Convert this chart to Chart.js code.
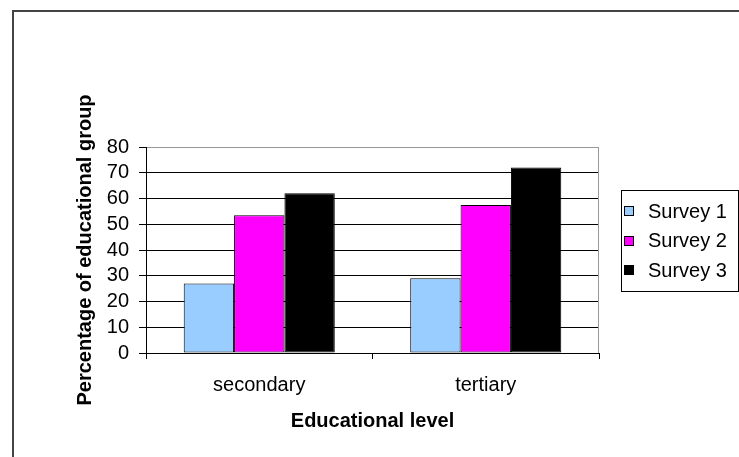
<!DOCTYPE html>
<html>
<head>
<meta charset="utf-8">
<script src="https://cdn.jsdelivr.net/npm/chart.js@4/dist/chart.umd.min.js"></script>
<style>
  html, body { margin: 0; padding: 0; background: #fff; }
  #wrap { width: 739px; height: 457px; }
</style>
</head>
<body>
<div id="wrap"><canvas id="chart" width="739" height="457"></canvas></div>
<script>
// Share of each educational group, by survey
const categories = ['secondary', 'tertiary'];
const seriesNames = ['Survey 1', 'Survey 2', 'Survey 3'];
const survey1 = [27, 29];
const survey2 = [53.5, 57.5];
const survey3 = [62, 72];
const yMin = 0;
const yMax = 80;
const yStep = 10;

const colors = ['#99CCFF', '#FF00FF', '#000000'];
const FONT = '"Liberation Sans", Arial, sans-serif';

// Outer frame, plot-area outline and the boxed legend
const decorations = {
  id: 'decorations',
  beforeDraw(chart) {
    const ctx = chart.ctx;
    ctx.save();
    ctx.strokeStyle = '#444';
    ctx.lineWidth = 2;
    ctx.beginPath();
    ctx.moveTo(13, 470);
    ctx.lineTo(13, 11);
    ctx.lineTo(760, 11);
    ctx.stroke();
    ctx.restore();
  },
  beforeDatasetsDraw(chart) {
    const { ctx, chartArea: a } = chart;
    ctx.save();
    ctx.strokeStyle = '#999';
    ctx.lineWidth = 1;
    ctx.beginPath();
    ctx.moveTo(Math.round(a.right) - 0.5, a.bottom);
    ctx.lineTo(Math.round(a.right) - 0.5, a.top);
    ctx.stroke();
    ctx.restore();
  },
  afterDraw(chart) {
    const ctx = chart.ctx;
    const box = { x: 621.5, y: 190.5, w: 117, h: 101 };
    ctx.save();
    ctx.strokeStyle = '#000';
    ctx.lineWidth = 1;
    ctx.strokeRect(box.x, box.y, box.w, box.h);
    ctx.font = '20px ' + FONT;
    ctx.textBaseline = 'middle';
    ctx.textAlign = 'left';
    chart.data.datasets.forEach((ds, i) => {
      const cy = 211 + i * 29.5;
      ctx.fillStyle = ds.backgroundColor;
      ctx.fillRect(624.5, Math.round(cy) - 4.5, 9, 9);
      ctx.strokeStyle = '#000';
      ctx.strokeRect(624.5, Math.round(cy) - 4.5, 9, 9);
      ctx.fillStyle = '#000';
      ctx.fillText(ds.label, 648, cy + 1);
    });
    ctx.restore();
  }
};

const series = [survey1, survey2, survey3];

new Chart(document.getElementById('chart'), {
  type: 'bar',
  data: {
    labels: categories,
    datasets: series.map((values, i) => ({
      label: seriesNames[i],
      data: values,
      backgroundColor: colors[i],
      borderColor: '#000',
      borderWidth: 1,
      borderSkipped: false,
      categoryPercentage: 0.667,
      barPercentage: 1
    }))
  },
  options: {
    responsive: false,
    animation: false,
    devicePixelRatio: 1,
    layout: { padding: { left: 73, right: 140, top: 147, bottom: 24 } },
    plugins: {
      legend: { display: false },
      tooltip: { enabled: false },
      title: { display: false }
    },
    scales: {
      x: {
        type: 'category',
        offset: true,
        grid: {
          offset: true,
          drawOnChartArea: false,
          drawTicks: true,
          tickLength: 6,
          color: '#000'
        },
        border: { display: true, color: '#000', width: 1 },
        ticks: {
          color: '#000',
          padding: 14,
          font: { family: FONT, size: 20 }
        },
        title: {
          display: true,
          text: 'Educational level',
          color: '#000',
          padding: 0,
          font: { family: FONT, size: 20, weight: 'bold' }
        },
        afterFit(scale) { scale.height = 80; }
      },
      y: {
        min: yMin,
        max: yMax,
        ticks: {
          stepSize: yStep,
          autoSkip: false,
          color: '#000',
          padding: 10,
          font: { family: FONT, size: 20 }
        },
        grid: {
          color: (c) => (c.tick && c.tick.value === yMax ? '#999' : '#000'),
          lineWidth: 1,
          tickLength: 7,
          tickColor: '#000'
        },
        border: { display: true, color: '#000', width: 1 },
        title: {
          display: true,
          text: 'Percentage of educational group',
          color: '#000',
          padding: 0,
          font: { family: FONT, size: 20, weight: 'bold' }
        },
        afterFit(scale) { scale.width = 73; }
      }
    }
  },
  plugins: [decorations]
});
</script>
</body>
</html>
